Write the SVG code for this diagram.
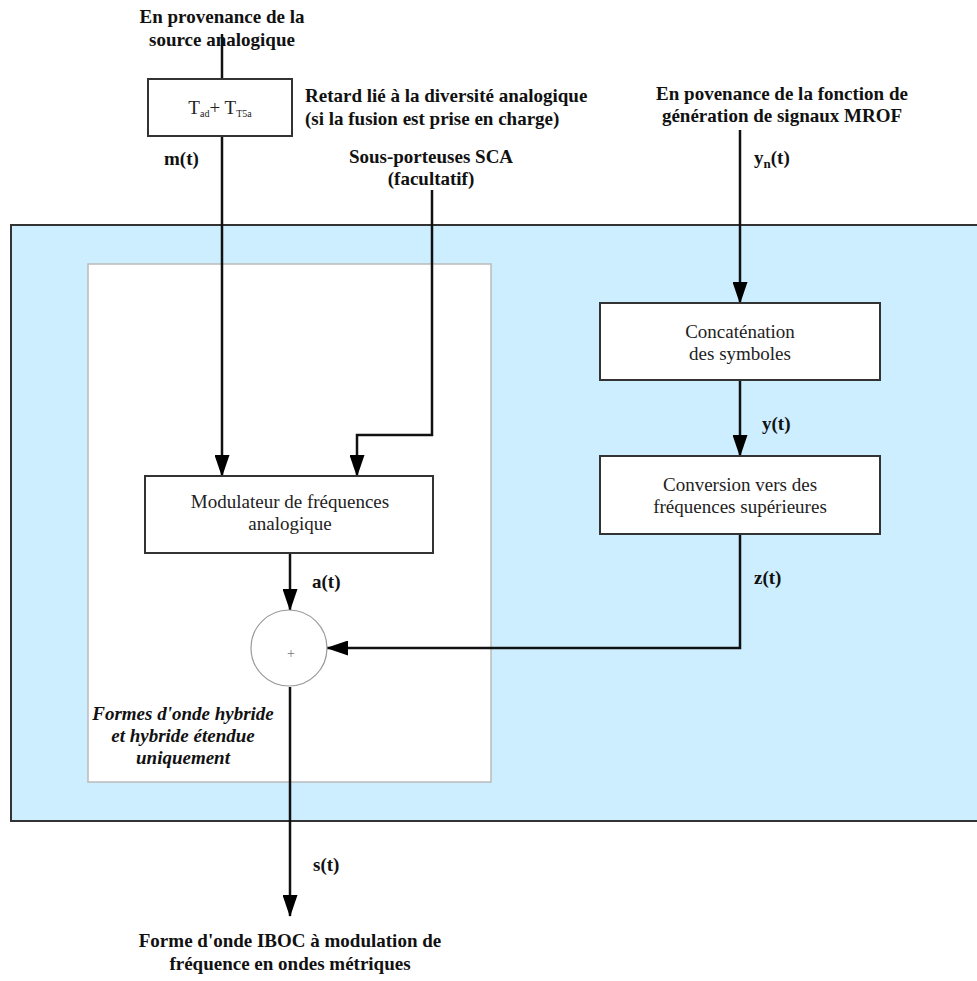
<svg xmlns="http://www.w3.org/2000/svg" width="977" height="981" viewBox="0 0 977 981">
<defs>
<marker id="arr" markerWidth="22" markerHeight="15" refX="21" refY="7.5" orient="auto" markerUnits="userSpaceOnUse" viewBox="0 0 22 15">
<path d="M0,0 L22,7.5 L0,15 Z" fill="#000"/>
</marker>
<style>
.b{font-family:"Liberation Serif",serif;font-weight:bold;font-size:19px;fill:#111}
.r{font-family:"Liberation Serif",serif;font-size:19px;fill:#222}
.i{font-family:"Liberation Serif",serif;font-weight:bold;font-style:italic;font-size:19px;fill:#111}
.box{fill:#fff;stroke:#333;stroke-width:2}
.ln{fill:none;stroke:#111;stroke-width:2.5}
</style>
</defs>
<rect width="977" height="981" fill="#fff"/>
<g id="zone">
<rect x="11" y="225" width="970" height="596" fill="#cceeff" stroke="#333" stroke-width="2"/>
<rect x="88" y="264" width="403" height="518" fill="#fff" stroke="#bbb" stroke-width="1.5"/>
</g>
<g id="connectors">
<line class="ln" x1="222" y1="34" x2="222" y2="79"/>
<line class="ln" x1="222" y1="136" x2="222" y2="476" marker-end="url(#arr)"/>
<polyline class="ln" points="432,190 432,435 357,435 357,476" marker-end="url(#arr)"/>
<line class="ln" x1="740" y1="130" x2="740" y2="303" marker-end="url(#arr)"/>
<line class="ln" x1="740" y1="380" x2="740" y2="456" marker-end="url(#arr)"/>
<polyline class="ln" points="740,534 740,648 327,648" marker-end="url(#arr)"/>
<line class="ln" x1="290" y1="553" x2="290" y2="610" marker-end="url(#arr)"/>
<line class="ln" x1="290" y1="687" x2="290" y2="916" marker-end="url(#arr)"/>
</g>
<g id="src-analog">
<text class="b" x="222" y="23" text-anchor="middle">En provenance de la</text>
<text class="b" x="222" y="46" text-anchor="middle">source analogique</text>
</g>
<g id="delay">
<rect class="box" x="148" y="79" width="144" height="57"/>
<text class="r" x="220" y="114" text-anchor="middle" font-size="17">T<tspan font-size="10" dy="3">ad</tspan><tspan dy="-3">+ T</tspan><tspan font-size="10" dy="3">T5a</tspan></text>
<text class="b" x="305" y="102">Retard lié à la diversité analogique</text>
<text class="b" x="305" y="125">(si la fusion est prise en charge)</text>
</g>
<g id="labels">
<text class="b" x="164" y="165">m(t)</text>
<text class="b" x="431" y="163" text-anchor="middle">Sous-porteuses SCA</text>
<text class="b" x="431" y="185" text-anchor="middle">(facultatif)</text>
<text class="b" x="782" y="100" text-anchor="middle">En povenance de la fonction de</text>
<text class="b" x="782" y="122" text-anchor="middle">génération de signaux MROF</text>
<text class="b" x="754" y="164">y<tspan font-size="13" dy="4">n</tspan><tspan dy="-4">(t)</tspan></text>
<text class="b" x="762" y="430">y(t)</text>
<text class="b" x="754" y="584">z(t)</text>
<text class="b" x="312" y="588">a(t)</text>
<text class="b" x="313" y="871">s(t)</text>
<text class="b" x="290" y="947" text-anchor="middle">Forme d'onde IBOC à modulation de</text>
<text class="b" x="290" y="970" text-anchor="middle">fréquence en ondes métriques</text>
</g>
<g id="concat">
<rect class="box" x="600" y="303" width="280" height="77"/>
<text class="r" x="740" y="338" text-anchor="middle">Concaténation</text>
<text class="r" x="740" y="360" text-anchor="middle">des symboles</text>
</g>
<g id="upconv">
<rect class="box" x="600" y="456" width="280" height="78"/>
<text class="r" x="740" y="491" text-anchor="middle">Conversion vers des</text>
<text class="r" x="740" y="513" text-anchor="middle">fréquences supérieures</text>
</g>
<g id="fmmod">
<rect class="box" x="145" y="476" width="288" height="77"/>
<text class="r" x="290" y="508" text-anchor="middle">Modulateur de fréquences</text>
<text class="r" x="290" y="530" text-anchor="middle">analogique</text>
</g>
<g id="sum">
<circle cx="289" cy="648" r="38" fill="#fff" stroke="#999" stroke-width="1.2"/>
<text x="291" y="658" text-anchor="middle" font-family="Liberation Serif, serif" font-size="14" fill="#777">+</text>
</g>
<g id="note">
<text class="i" x="183" y="720" text-anchor="middle">Formes d'onde hybride</text>
<text class="i" x="183" y="742" text-anchor="middle">et hybride étendue</text>
<text class="i" x="183" y="764" text-anchor="middle">uniquement</text>
</g>
</svg>
